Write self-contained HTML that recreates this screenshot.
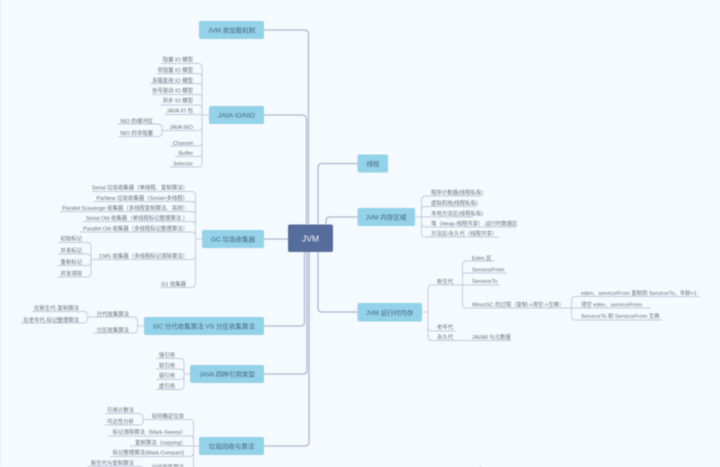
<!DOCTYPE html>
<html><head><meta charset="utf-8"><style>
html,body{margin:0;padding:0;background:#f5faff;width:720px;height:467px;overflow:hidden}
svg{display:block;filter:blur(.4px)}
text{font-family:"Liberation Sans","Noto Sans CJK SC",sans-serif;font-size:5.4px;fill:#6a7078}
.e{text-anchor:end}
.r{font-size:6.5px;fill:#47677f;text-anchor:middle}
.l{fill:none;stroke:#c2c9dd;stroke-width:.9}
.t{fill:none;stroke:#aeb7cf;stroke-width:1.3}
.m{fill:#93d2e8}
</style></head><body>
<svg width="720" height="467" viewBox="0 0 720 467" xmlns="http://www.w3.org/2000/svg">
<rect x="0" y="0" width="1" height="467" fill="#e6ecf5"/>
<!-- main connectors -->
<g class="t">
<path d="M264 30H304Q308.500 30 308.500 34V224"/>
<path d="M264 115H302Q306.500 115 306.500 119V224"/>
<path d="M264 239H288"/>
<path d="M264 326H300.500Q304.500 326 304.500 322V252"/>
<path d="M264 374H303Q307 374 307 370V252"/>
<path d="M264 446H305Q309 446 309 442V252"/>
<path d="M318 224V168Q318 163.500 322 163.500H357.500"/>
<path d="M326 224V221Q326 217 330 217H357.500"/>
<path d="M318 252V308Q318 312 322 312H357.500"/>
</g>
<!-- JAVA IO -->
<g class="l">
<path d="M209 115H202"/>
<path d="M161 63.500H198Q202 63.500 202 67.500V163Q202 167 198 167H170"/>
<path d="M157 73.500H198Q202 73.500 202 77.500"/>
<path d="M150 83.500H198Q202 83.500 202 87.500"/>
<path d="M152 94.500H198Q202 94.500 202 98.500"/>
<path d="M160 105H198Q202 105 202 109"/>
<path d="M165 114.500H202"/>
<path d="M170 130.500H198Q202 130.500 202 126.500"/>
<path d="M170 146H198Q202 146 202 142"/>
<path d="M175 156.500H198Q202 156.500 202 152.500"/>
<path d="M118 124H158Q162 124 162 128V132.500Q162 136.500 158 136.500H118M162 130.500H170"/>
</g>
<!-- GC -->
<g class="l">
<path d="M202 239H195.500"/>
<path d="M92 191.500H191.500Q195.500 191.500 195.500 195.500V283.500Q195.500 287.500 191.500 287.500H160"/>
<path d="M94 201.500H191.500Q195.500 201.500 195.500 205.500"/>
<path d="M60 211.500H191.500Q195.500 211.500 195.500 215.500"/>
<path d="M83 221.500H191.500Q195.500 221.500 195.500 225.500"/>
<path d="M80 232H191.500Q195.500 232 195.500 236"/>
<path d="M91 259.500H191.500Q195.500 259.500 195.500 255.500"/>
<path d="M58 242.500H87Q91 242.500 91 246.500V273Q91 277 87 277H58"/>
<path d="M58 254H87Q91 254 91 258"/>
<path d="M58 265.500H87Q91 265.500 91 261.500"/>
</g>
<!-- GC 分代 -->
<g class="l">
<path d="M144 326H137.500"/>
<path d="M94 317H133.500Q137.500 317 137.500 321V329Q137.500 333 133.500 333H94"/>
<path d="M32 311.500H83.500Q87.500 311.500 87.500 315.500V319Q87.500 323 83.500 323H21M87.500 317H94"/>
</g>
<!-- 四种引用 -->
<g class="l">
<path d="M190 374H184"/>
<path d="M156 358.500H180Q184 358.500 184 362.500V385.500Q184 389.500 180 389.500H156"/>
<path d="M156 369H180Q184 369 184 373"/>
<path d="M156 379.500H180Q184 379.500 184 375.500"/>
</g>
<!-- 垃圾回收 -->
<g class="l">
<path d="M199 446H193.500"/>
<path d="M130 446H193.500"/>
<path d="M150 419.500H189.500Q193.500 419.500 193.500 423.500V467"/>
<path d="M108 436H189.500Q193.500 436 193.500 440"/>
<path d="M110 456.500H189.500Q193.500 456.500 193.500 452.500"/>
<path d="M105 413.500H139Q143 413.500 143 417.500V421Q143 425 139 425H105M143 419.500H150"/>
<path d="M88 466.500H142"/>
</g>
<!-- 内存区域 -->
<g class="l">
<path d="M415 217H421.500"/>
<path d="M481 196H425.500Q421.500 196 421.500 200V233Q421.500 237 425.500 237H499"/>
<path d="M476 206.500H425.500Q421.500 206.500 421.500 210.500"/>
<path d="M473 217H421.500"/>
<path d="M516 227H425.500Q421.500 227 421.500 223"/>
</g>
<!-- 运行时内存 -->
<g class="l">
<path d="M422 312H428"/>
<path d="M457 285H432Q428 285 428 289V336.500Q428 340.500 432 340.500H511"/>
<path d="M456 331H432Q428 331 428 327"/>
<path d="M494 261H466.500Q462.500 261 462.500 265V304Q462.500 308 466.500 308H562"/>
<path d="M507 273H466.500Q462.500 273 462.500 277"/>
<path d="M457 285H500"/>
<path d="M700 296.500H575.500Q571.500 296.500 571.500 300.500V316Q571.500 320 575.500 320H662"/>
<path d="M650 308H562"/>
</g>
<!-- boxes -->
<rect class="m" x="199" y="21" width="65" height="18" rx="2"/>
<rect class="m" x="209" y="106" width="55" height="18" rx="2"/>
<rect class="m" x="202" y="230" width="62" height="18" rx="2"/>
<rect class="m" x="144" y="317" width="120" height="18" rx="2"/>
<rect class="m" x="190" y="365" width="74" height="18" rx="2"/>
<rect class="m" x="199" y="437" width="65" height="18" rx="2"/>
<rect class="m" x="357.500" y="154.500" width="30.500" height="18" rx="2"/>
<rect class="m" x="357.500" y="208" width="57.500" height="18" rx="2"/>
<rect class="m" x="357.500" y="303" width="64.500" height="18.500" rx="2"/>
<rect x="288" y="224.500" width="45" height="27.500" rx="2" fill="#566c9a"/>
<text x="310.500" y="241.500" style="font-size:8.500px;fill:#f2f5fa;text-anchor:middle">JVM</text>
<text class="r" x="231.500" y="32.500">JVM 类加载机制</text>
<text class="r" x="236.500" y="117.500">JAVA IO/NIO</text>
<text class="r" x="233" y="241.500">GC 垃圾收集器</text>
<text class="r" x="204" y="328.500">GC 分代收集算法 VS 分区收集算法</text>
<text class="r" x="227" y="376.500">JAVA 四种引用类型</text>
<text class="r" x="231.500" y="448.500">垃圾回收与算法</text>
<text class="r" x="373" y="166">线程</text>
<text class="r" x="386" y="219.500">JVM 内存区域</text>
<text class="r" x="389.500" y="315">JVM 运行时内存</text>
<!-- IO text -->
<g class="e">
<text x="193" y="61.500">阻塞 IO 模型</text>
<text x="193" y="72">非阻塞 IO 模型</text>
<text x="193" y="82.500">多路复用 IO 模型</text>
<text x="193" y="92.500">信号驱动 IO 模型</text>
<text x="193" y="102.500">异步 IO 模型</text>
<text x="193" y="112.500">JAVA IO 包</text>
<text x="193" y="129">JAVA NIO</text>
<text x="193" y="145">Channel</text>
<text x="193" y="155">Buffer</text>
<text x="193" y="165.500">Selector</text>
<text x="153" y="123">NIO 的缓冲区</text>
<text x="153" y="135">NIO 的非阻塞</text>
<!-- GC text -->
<text x="188" y="189.500">Serial 垃圾收集器（单线程、复制算法）</text>
<text x="188" y="200">ParNew 垃圾收集器（Serial+多线程）</text>
<text x="188" y="210">Parallel Scavenge 收集器（多线程复制算法、高效）</text>
<text x="188" y="220">Serial Old 收集器（单线程标记整理算法 ）</text>
<text x="188" y="230.500">Parallel Old 收集器（多线程标记整理算法）</text>
<text x="188" y="258">CMS 收集器（多线程标记清除算法）</text>
<text x="186" y="286">G1 收集器</text>
<text x="82" y="240.500">初始标记</text>
<text x="82" y="252.500">并发标记</text>
<text x="82" y="264">重新标记</text>
<text x="82" y="275.500">并发清除</text>
<!-- 分代 -->
<text x="129" y="316">分代收集算法</text>
<text x="129" y="332">分区收集算法</text>
<text x="79" y="310">在新生代-复制算法</text>
<text x="79" y="322">在老年代-标记整理算法</text>
<!-- 引用 -->
<text x="175" y="357">强引用</text>
<text x="175" y="367.500">软引用</text>
<text x="175" y="377.500">弱引用</text>
<text x="175" y="388">虚引用</text>
<!-- 垃圾回收 -->
<text x="184" y="418">如何确定垃圾</text>
<text x="134" y="412">引用计数法</text>
<text x="134" y="423.500">可达性分析</text>
<text x="186" y="434">标记清除算法（Mark-Sweep）</text>
<text x="186" y="444.500">复制算法（copying）</text>
<text x="184" y="454.500">标记整理算法(Mark-Compact)</text>
<text x="134" y="465">新生代与复制算法</text>
<text x="184" y="469">分代收集算法</text>
</g>
<!-- right text -->
<text x="431" y="194.500">程序计数器(线程私有)</text>
<text x="431" y="205">虚拟机栈(线程私有)</text>
<text x="431" y="215.500">本地方法区(线程私有)</text>
<text x="431" y="225.500">堆（Heap-线程共享）-运行时数据区</text>
<text x="431" y="235.500">方法区/永久代（线程共享）</text>
<text x="437" y="283.500">新生代</text>
<text x="437" y="329">老年代</text>
<text x="437" y="339">永久代</text>
<text x="472" y="339">JAVA8 与元数据</text>
<text x="472" y="260">Eden 区</text>
<text x="472" y="271.500">ServivorFrom</text>
<text x="472" y="283">ServivorTo</text>
<text x="472" y="306.500">MinorGC 的过程（复制-&gt;清空-&gt;互换）</text>
<text x="581" y="295">eden、servicorFrom 复制到 ServicorTo，年龄+1</text>
<text x="581" y="306.500">清空 eden、servicorFrom</text>
<text x="581" y="318">ServicorTo 和 ServicorFrom 互换</text>
<rect x="480.500" y="466" width="1" height="1" fill="#b5bcc8"/>
</svg>
</body></html>
